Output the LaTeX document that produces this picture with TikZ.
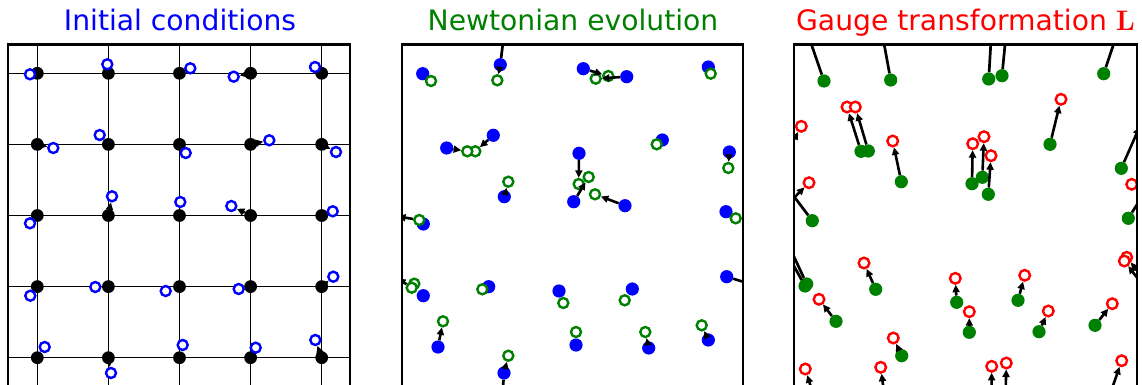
\documentclass[tikz,border=0pt]{standalone}
\usepackage{fontspec}
\setmainfont{DejaVu Sans}
\newfontfamily\Lfont{Latin Modern Roman}
\usetikzlibrary{arrows.meta}
\definecolor{mgreen}{RGB}{0,128,0}
\begin{document}
\begin{tikzpicture}[x=1pt,y=-1pt,
  frame/.style={line width=2.3pt},
  gridline/.style={line width=1.3pt},
  title/.style={anchor=base,inner sep=0pt,font=\fontsize{28.2}{30}\selectfont},
  kdot/.style={circle,fill=black,inner sep=0pt,minimum size=12.8pt},
  bdot/.style={circle,fill=blue,inner sep=0pt,minimum size=13.2pt},
  gdot/.style={circle,fill=mgreen,inner sep=0pt,minimum size=13.2pt},
  bring/.style={circle,draw=blue,fill=white,line width=2.4pt,inner sep=0pt,minimum size=10pt},
  gring/.style={circle,draw=mgreen,fill=white,line width=2.4pt,inner sep=0pt,minimum size=10pt},
  rring/.style={circle,draw=red,fill=white,line width=2.4pt,inner sep=0pt,minimum size=10.6pt},
  arr/.style={line width=2.6pt,-{Triangle[length=7.5pt,width=7pt]}},
  ln/.style={line width=2.7pt}]
\useasboundingbox[fill=white] (0,0) rectangle (1142,385);

% ---------- titles ----------
\node[title,text=blue] (t1) at (180,30.7) {Initial conditions};
\node[title,text=mgreen] (t2) at (573,30.7) {Newtonian evolution};
\node[title,text=red] (t3) at (965.5,30.7) {Gauge transformation {\Lfont\bfseries L}};

% ---------- panel 1 ----------
\begin{scope}
\clip (8,44.5) rectangle (350,400);
\foreach \x in {37.3,108.4,179.5,250.6,321.7} \draw[gridline] (\x,44.5) -- (\x,400);
\foreach \y in {73.3,144.4,215.5,286.6,357.7} \draw[gridline] (8,\y) -- (350,\y);
\foreach \c/\x in {0/37.3,1/108.4,2/179.5,3/250.6,4/321.7}
  \foreach \r/\y in {0/73.3,1/144.4,2/215.5,3/286.6,4/357.7}
    \node[kdot] (k\r\c) at (\x,\y) {};
\foreach \n/\x/\y in {
  00/30/74.3, 01/107.3/64.3, 02/190.3/68.3, 03/233.7/76.7, 04/315/67,
  10/53.3/148, 11/99.7/135, 12/185.7/153, 13/269.3/140.3, 14/336/152,
  20/30/223.3, 21/112/196.3, 22/180.3/202, 23/231.3/206, 24/332.7/211.3,
  30/30.3/295.7, 31/95.3/287, 32/165.7/291, 33/238.7/289, 34/333.3/276.7,
  40/44.7/347, 41/111/373, 42/182.7/345, 43/255.7/347.7, 44/315.3/340}
  \node[bring] (c\n) at (\x,\y) {};
\foreach \n in {03,10,13,14,21,23,34,41,44}
  \draw[arr] (k\n) -- (c\n);
\end{scope}
\draw[frame] (8,400) -- (8,44.5) -- (350,44.5) -- (350,400);

% ---------- panel 2 ----------
\begin{scope}
\clip (401.7,44.5) rectangle (742.7,400);
\foreach \n/\x/\y in {
  1/422.7/73.7, 2/500.3/64.7, 3/583.3/68.7, 4/626.7/76.7, 5/708.3/67,
  6/493.3/135.3, 7/446.7/148, 8/662.3/140, 9/729.3/152, 10/579/153.3,
  11/504.3/196.7, 12/573.7/201.7, 13/625/205.7, 14/726/211.7, 15/423.3/224,
  16/423.3/295.7, 17/488.7/286.7, 18/559/291, 19/632.3/289, 20/726.7/276.7,
  21/438/347, 22/504/373, 23/576/345, 24/648.7/348, 25/708.3/340}
  \node[bdot] (p\n) at (\x,\y) {};
\foreach \n/\x/\y in {
  1/431/81, 2/497.3/80.3, 3/608.3/76, 4/595.7/78.7, 5/710.7/73.7,
  6/475.3/151.3, 7/467.3/151.3, 8/656.7/144.3, 9/728.3/168, 10/578.7/184,
  11/508.3/181.7, 12/588.7/177, 13/595/194.3, 14/735.7/218.3, 15/419.3/220,
  16/414.3/283.7, 17/482.3/289.3, 18/563.3/303, 19/624.7/300.3, 26/411.7/287.7,
  21/443/321.3, 22/508.3/355.7, 23/576/332, 24/645.3/332, 25/701.7/325.3}
  \node[gring] (q\n) at (\x,\y) {};
\foreach \n in {2,3,4,6,7,9,10,11,12,13,21,22,24,25}
  \draw[arr] (p\n) -- (q\n);
\coordinate (e1) at (504.5,30);
\coordinate (e2) at (502,400);
\coordinate (e3) at (752,284.5);
\coordinate (e4) at (398,216.5);
\coordinate (e5) at (398,278.5);
\draw[ln] (p2) -- (e1);
\draw[ln] (p22) -- (e2);
\draw[arr] (p20) -- (e3);
\draw[arr] (q15) -- (e4);
\draw[arr] (q26) -- (e5);
\end{scope}
\draw[frame] (401.7,400) -- (401.7,44.5) -- (742.7,44.5) -- (742.7,400);

% ---------- panel 3 ----------
\begin{scope}
\clip (794.3,44.5) rectangle (1136.7,400);
\foreach \n/\x/\y in {
  1/824/81, 2/890.7/80, 3/988.7/79, 4/1002/75.7, 5/1103.7/73.7,
  6/861/151.3, 7/868.3/151, 8/901.3/181.7, 9/972/183.7, 10/982.3/177.3,
  11/988.3/194.3, 12/1050/144.3, 13/1121.3/168.3, 17/812.3/220.7, 18/1128.3/218.3,
  19/805/286, 19b/806.7/284, 20/875.7/289.3, 21/836/321.3, 22/956.7/302.3,
  23/969.3/332.3, 24/1018/300.3, 25/1039/331.7, 26/1095/325.3, 28/901.7/355.7}
  \node[gdot] (g\n) at (\x,\y) {};
\foreach \n/\x/\y in {
  6/847/107, 7/855.3/107, 8/892.7/141, 9/972.7/143.7, 10/984/136.7,
  11/991/155.7, 12/1061/99.3, 14/801.3/126.3, 15/809/182.7, 16/1131.7/184.3,
  20/864/263, 21/819/299.3, 22/955.3/278.3, 23/969.3/311.7, 24/1024.7/275.3,
  25/1048.3/311, 26/1112.3/303.7, 27/1126.7/257.3, 27b/1124.3/261, 28/893.3/338,
  29/805.3/369, 30/880.7/367.3, 31/991.7/366.3, 32/1006.3/363, 33/1121.7/360.7}
  \node[rring] (r\n) at (\x,\y) {};
\foreach \n in {6,7,8,9,10,11,12,20,21,22,23,24,25,26,28}
  \draw[arr] (g\n) -- (r\n);
% connectors leaving the window
\coordinate (u1) at (803,20);
\coordinate (u2) at (879.7,20);
\coordinate (u3) at (992.2,20);
\coordinate (u4) at (1007.4,20);
\coordinate (u5) at (1121.7,20);
\coordinate (u13) at (1139.5,127);
\coordinate (u17) at (780,178);
\coordinate (u18) at (1150,184);
\coordinate (u19) at (785,250);
\coordinate (u19b) at (789,246);
\foreach \n in {1,2,3,4,5,17,18,19,19b} \draw[ln] (g\n) -- (u\n);
\draw[arr] (g13) -- (u13);
% connectors entering the window
\coordinate (v14) at (780,165);
\coordinate (v15) at (780,212);
\coordinate (v27) at (1150,287);
\coordinate (v27b) at (1148,292);
\coordinate (v29) at (815,400);
\coordinate (v30) at (885,400);
\coordinate (v31) at (991.5,400);
\coordinate (v32) at (1005.5,400);
\coordinate (v33) at (1108,400);
\foreach \n in {14,15,27,27b,29,30,31,32,33} \draw[arr] (v\n) -- (r\n);
\end{scope}
\draw[frame] (794.3,400) -- (794.3,44.5) -- (1136.7,44.5) -- (1136.7,400);
\end{tikzpicture}
\end{document}
